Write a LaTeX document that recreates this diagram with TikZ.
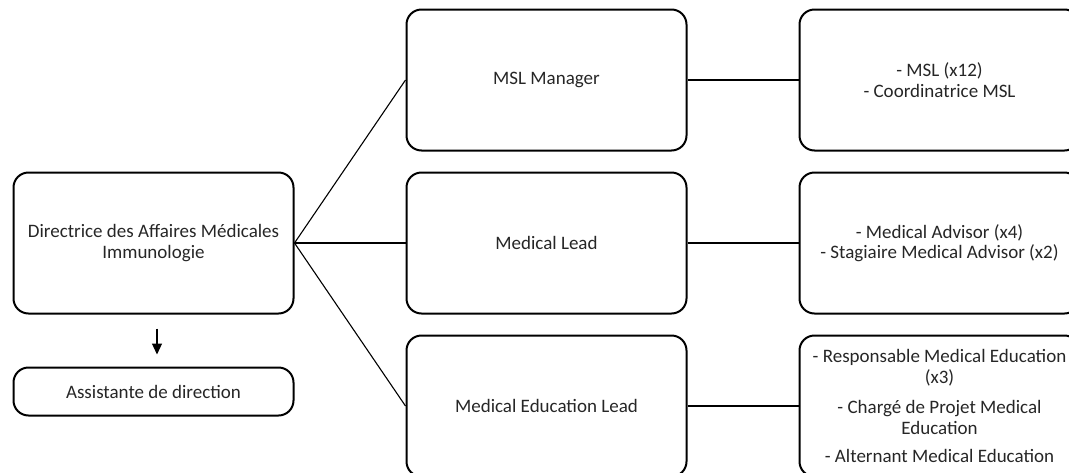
\documentclass[tikz,border=0pt]{standalone}
\usepackage{fontspec}
\setmainfont{Carlito}
\usepackage{tikz}
\usetikzlibrary{arrows.meta, positioning}
\tikzstyle{post} = [rectangle, rounded corners=15pt, minimum width=280pt, minimum height=141pt, align=center, draw=black, line width=2pt, text=black!85, font=\fontsize{19}{20.5}\selectfont]
\tikzstyle{assistbox} = [post, minimum height=48pt]
\tikzstyle{link} = [line width=1.1pt]

\begin{document}
\begin{tikzpicture}[node distance=20pt and 111pt]
\useasboundingbox (0,0) rectangle (1069pt,-472pt);
\clip (0,0) rectangle (1069pt,-472pt);
\node (dir) [post] at (153.5pt,-243pt) {Directrice des Affaires Médicales\\Immunologie};
\node (assist) [assistbox, below=52pt of dir] {Assistante de direction};
\node (lead) [post, right=of dir] {Medical Lead};
\node (msl) [post, above=of lead] {MSL Manager};
\node (edu) [post, below=of lead] {Medical Education Lead};
\node (mslteam) [post, right=of msl] {- MSL (x12)\\- Coordinatrice MSL};
\node (leadteam) [post, right=of lead] {- Medical Advisor (x4)\\- Stagiaire Medical Advisor (x2)};
\node (eduteam) [post, right=of edu] {- Responsable Medical Education\\(x3)\\[10pt]- Chargé de Projet Medical\\Education\\[8pt]- Alternant Medical Education};
\coordinate [below=14pt of dir, xshift=3.5pt] (arrtop);
\coordinate [above=12pt of assist, xshift=3.5pt] (arrtip);
\draw[link, -{Triangle[width=10pt,length=11pt]}] (arrtop) -- (arrtip);
\draw[link] (dir.east) -- (msl.west);
\draw[link] (dir.east) -- (lead.west);
\draw[link] (dir.east) -- (edu.west);
\draw[link] (msl.east) -- (mslteam.west);
\draw[link] (lead.east) -- (leadteam.west);
\draw[link] (edu.east) -- (eduteam.west);
\end{tikzpicture}
\end{document}
